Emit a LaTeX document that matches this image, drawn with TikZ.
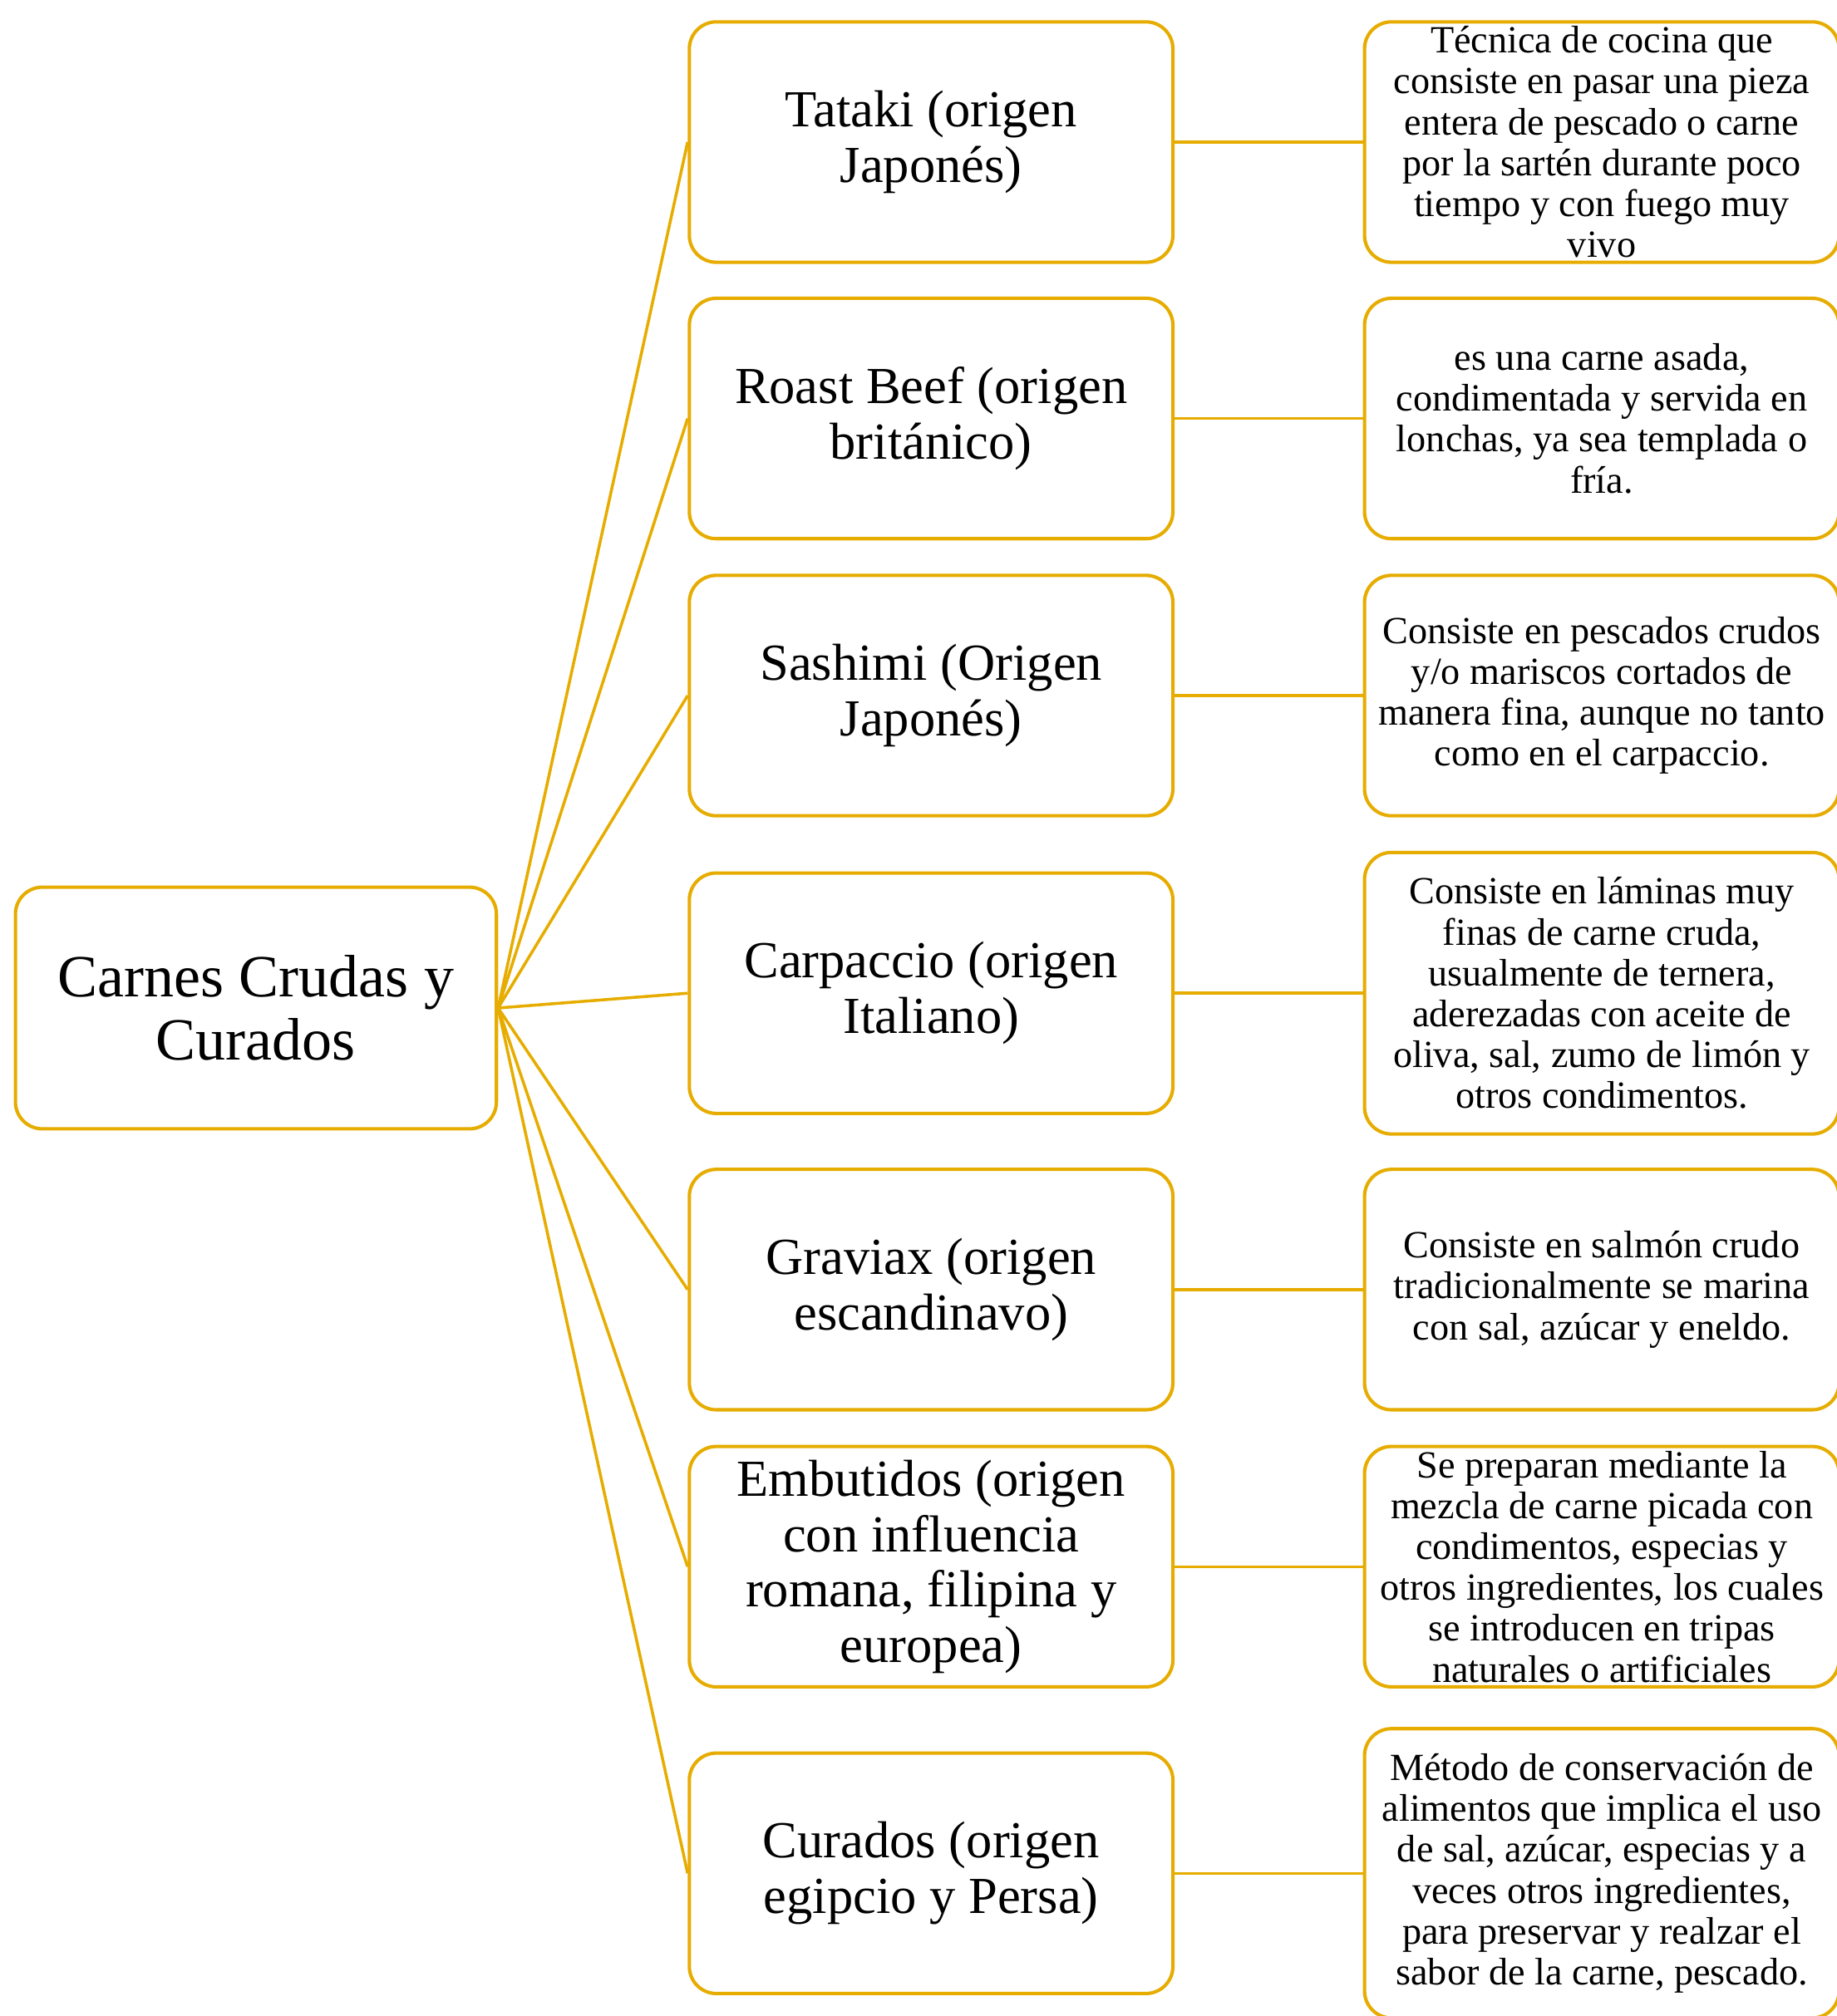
\documentclass[tikz,border=0pt]{standalone}
\usepackage{fontspec}
\setmainfont{Liberation Serif}
\usepackage{tikz}
\definecolor{gold}{RGB}{230,172,0}

\begin{document}
\begin{tikzpicture}[line width=1.5pt]

  \tikzstyle{rootnode}=[draw=gold,rounded corners=0.42cm,fill=white,inner sep=0pt,
    minimum width=7.48cm,minimum height=3.76cm,align=center,
    font=\fontsize{26.5}{27.8}\selectfont]
  \tikzstyle{typenode}=[draw=gold,rounded corners=0.42cm,fill=white,inner sep=0pt,
    minimum width=7.52cm,minimum height=3.74cm,align=center,
    font=\fontsize{23}{24.5}\selectfont]
  \tikzstyle{descnode}=[draw=gold,rounded corners=0.42cm,fill=white,inner sep=0pt,
    minimum width=7.38cm,minimum height=3.74cm,align=center,
    font=\fontsize{17}{18.1}\selectfont]

  \useasboundingbox (0,0) rectangle (28.56,-31.36);

  \node[rootnode] (root) at (3.98,-15.68) {Carnes Crudas y\\Curados};

  \node[typenode] (t1) at (14.48,-2.21)            {Tataki (origen\\Japonés)};
  \node[typenode] (t2) [below of=t1,node distance=4.30cm] {Roast Beef (origen\\británico)};
  \node[typenode] (t3) [below of=t2,node distance=4.31cm] {Sashimi (Origen\\Japonés)};
  \node[typenode] (t4) [below of=t3,node distance=4.63cm] {Carpaccio (origen\\Italiano)};
  \node[typenode] (t5) [below of=t4,node distance=4.61cm] {Graviax (origen\\escandinavo)};
  \node[typenode] (t6) [below of=t5,node distance=4.31cm] {Embutidos (origen\\con influencia\\romana, filipina y\\europea)};
  \node[typenode] (t7) [below of=t6,node distance=4.77cm] {Curados (origen\\egipcio y Persa)};

  \node[descnode] (d1) [right of=t1,node distance=10.43cm]
    {Técnica de cocina que\\consiste en pasar una pieza\\entera de pescado o carne\\por la sartén durante poco\\tiempo y con fuego muy\\vivo};
  \node[descnode] (d2) [right of=t2,node distance=10.43cm]
    {es una carne asada,\\condimentada y servida en\\lonchas, ya sea templada o\\fría.};
  \node[descnode] (d3) [right of=t3,node distance=10.43cm]
    {Consiste en pescados crudos\\y/o mariscos cortados de\\manera fina, aunque no tanto\\como en el carpaccio.};
  \node[descnode,minimum height=4.38cm] (d4) [right of=t4,node distance=10.43cm]
    {Consiste en láminas muy\\finas de carne cruda,\\usualmente de ternera,\\aderezadas con aceite de\\oliva, sal, zumo de limón y\\otros condimentos.};
  \node[descnode] (d5) [right of=t5,node distance=10.43cm]
    {Consiste en salmón crudo\\tradicionalmente se marina\\con sal, azúcar y eneldo.};
  \node[descnode] (d6) [right of=t6,node distance=10.43cm]
    {Se preparan mediante la\\mezcla de carne picada con\\condimentos, especias y\\otros ingredientes, los cuales\\se introducen en tripas\\naturales o artificiales};
  \node[descnode,minimum height=4.5cm] (d7) [right of=t7,node distance=10.43cm]
    {Método de conservación de\\alimentos que implica el uso\\de sal, azúcar, especias y a\\veces otros ingredientes,\\para preservar y realzar el\\sabor de la carne, pescado.};

  \path[draw=gold,line width=1.3pt]
    (root.east) edge (t1.west)
    (root.east) edge (t2.west)
    (root.east) edge (t3.west)
    (root.east) edge (t4.west)
    (root.east) edge (t5.west)
    (root.east) edge (t6.west)
    (root.east) edge (t7.west);

  \path[draw=gold,line width=1.3pt]
    (t1) edge (d1)
    (t2) edge (d2)
    (t3) edge (d3)
    (t4) edge (d4)
    (t5) edge (d5)
    (t6) edge (d6)
    (t7) edge (d7);

\end{tikzpicture}
\end{document}
